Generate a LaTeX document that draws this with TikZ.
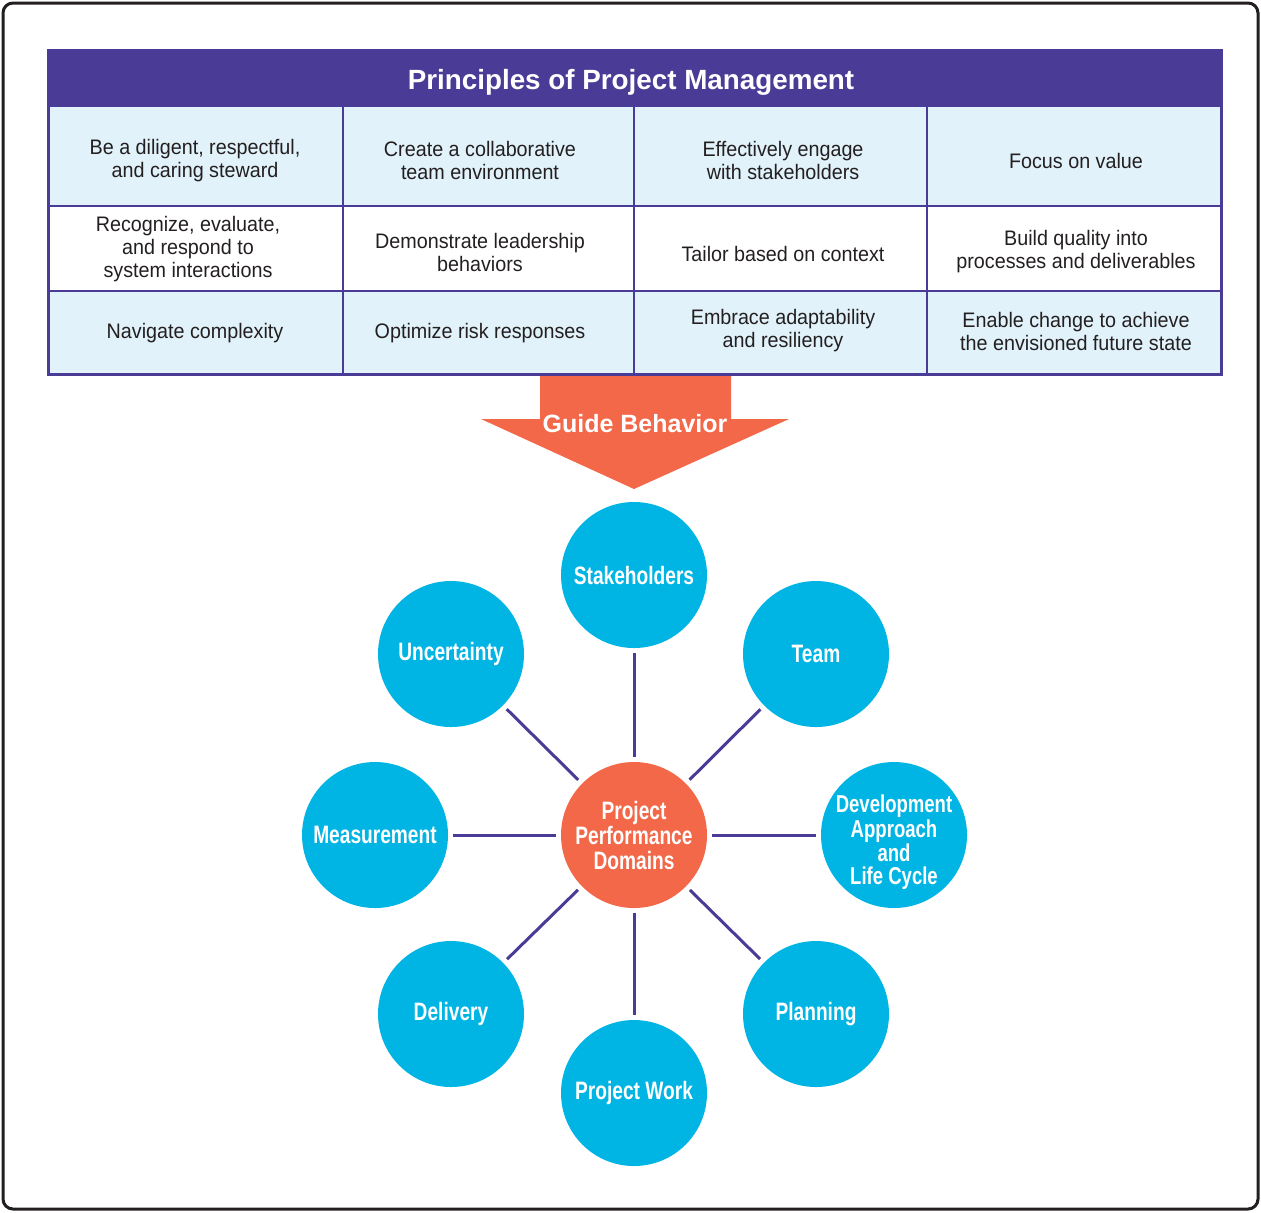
\documentclass[tikz,border=0pt]{standalone}
\usepackage{fontspec}
\usepackage{tikz}
\setmainfont{Liberation Sans}
\newfontfamily\tablefont{Liberation Sans}[FakeStretch=0.94]
\newfontfamily\circfont{Liberation Sans}[FakeStretch=0.76]

\definecolor{pmpurple}{HTML}{4A3C96}
\definecolor{cellblue}{HTML}{E1F2FA}
\definecolor{pmorange}{HTML}{F26849}
\definecolor{pmcyan}{HTML}{00B4E3}
\definecolor{textgray}{HTML}{231F20}

\tikzset{
  cell/.style={align=center, text=textgray, font=\tablefont\fontsize{10.5}{11.5}\selectfont},
  ctext/.style={align=center, text=white, inner sep=0pt,
    font=\circfont\bfseries\fontsize{12.6}{11.5}\selectfont},
  pdomain/.style={circle, fill=pmcyan, minimum size=73pt, inner sep=0pt, ctext},
  hub/.style={pdomain, fill=pmorange, font=\circfont\bfseries\fontsize{12.6}{12.5}\selectfont},
  link/.style={pmpurple, line width=1.5pt, shorten >=2.5pt, shorten <=2.5pt}
}

\begin{document}
\begin{tikzpicture}[x=0.5pt, y=-0.5pt]
\useasboundingbox (0,0) rectangle (1261,1212);

% frame
\draw[textgray, line width=1.5pt, rounded corners=5pt] (3,3) rectangle (1258,1209);

% table of principles
\fill[pmpurple] (48,50) rectangle (1221,106);
\fill[cellblue] (48,106) rectangle (1221,206);
\fill[cellblue] (48,291) rectangle (1221,374);
\foreach \y in {106,206,291}
  \draw[pmpurple, line width=1pt] (48,\y) -- (1221,\y);
\foreach \x in {343,634,927}
  \draw[pmpurple, line width=1pt] (\x,106) -- (\x,374);
\draw[pmpurple, line width=1.5pt] (48,50) rectangle (1221,374);

\node[text=white, font=\bfseries\fontsize{13.9}{15}\selectfont] (title) at (631,82) {Principles of Project Management};

\node[cell] (p11) at (195,161) {Be a diligent, respectful,\\and caring steward};
\node[cell] (p12) at (480,160) {Create a collaborative\\team environment};
\node[cell] (p13) at (783,160) {Effectively engage\\with stakeholders};
\node[cell] (p14) at (1076,161) {Focus on value};
\node[cell] (p21) at (188,249) {Recognize, evaluate,\\and respond to\\system interactions};
\node[cell] (p22) at (480,252) {Demonstrate leadership\\behaviors};
\node[cell] (p23) at (783,254) {Tailor based on context};
\node[cell] (p24) at (1076,252) {Build quality into\\processes and deliverables};
\node[cell] (p31) at (195,333) {Navigate complexity};
\node[cell] (p32) at (480,333) {Optimize risk responses};
\node[cell] (p33) at (783,331) {Embrace adaptability\\and resiliency};
\node[cell] (p34) at (1076,331) {Enable change to achieve\\the envisioned future state};

% arrow
\fill[pmorange] (540,376) -- (731,376) -- (731,419) -- (789,419) -- (634,489)
  -- (481,419) -- (540,419) -- cycle;
\node[text=white, font=\bfseries\fontsize{12.5}{14}\selectfont] (guide) at (635,424) {Guide Behavior};

% performance domains
\node[hub] (ppd) at (634,835) {Project\\Performance\\Domains};
\node[pdomain] (stake) at (634,575) {Stakeholders};
\node[pdomain] (team) at (816,654) {Team};
\node[pdomain] (dev) at (894,835) {};
\node[ctext, font=\circfont\bfseries\fontsize{12.2}{11.2}\selectfont] (devtext) at (894,842) {Development\\Approach\\and\\Life Cycle};
\node[pdomain] (plan) at (816,1014) {Planning};
\node[pdomain] (work) at (634,1093) {Project Work};
\node[pdomain] (deliv) at (451,1014) {Delivery};
\node[pdomain] (meas) at (375,835) {Measurement};
\node[pdomain] (unc) at (451,654) {Uncertainty};

\foreach \d in {stake,team,dev,plan,work,deliv,meas,unc}
  \draw[link] (ppd) -- (\d);

\end{tikzpicture}
\end{document}
